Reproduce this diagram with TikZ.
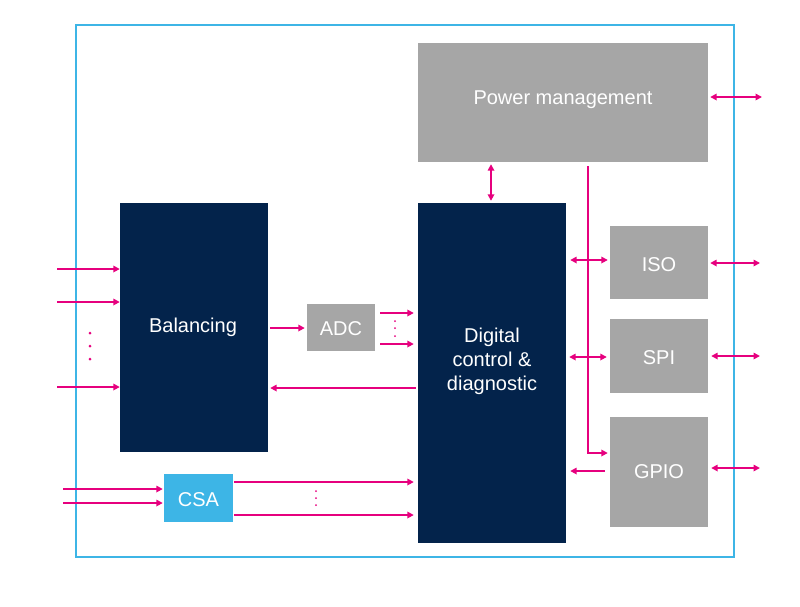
\documentclass[tikz,border=0pt]{standalone}
\usepackage{fontspec}
\setmainfont{Liberation Sans}
\usetikzlibrary{arrows.meta}
\definecolor{framec}{HTML}{3DB5E6}
\definecolor{navy}{HTML}{03234B}
\definecolor{greyc}{HTML}{A6A6A6}
\definecolor{mag}{HTML}{E6007E}
\begin{document}
\begin{tikzpicture}[x=1pt,y=-1pt,
  blk/.style={inner sep=0pt, text=white, font=\fontsize{20}{24}\selectfont, align=center},
  navyblk/.style={blk, fill=navy},
  greyblk/.style={blk, fill=greyc},
  csablk/.style={blk, fill=framec},
  sig/.style={draw=mag, line width=2pt, -{Triangle[length=6.5pt,width=6.5pt]}},
  dsig/.style={draw=mag, line width=2pt, {Triangle[length=6.5pt,width=6.5pt]}-{Triangle[length=6.5pt,width=6.5pt]}},
  bigdot/.style={circle, fill=mag, inner sep=0pt, minimum size=3pt},
  smalldot/.style={circle, fill=mag, inner sep=0pt, minimum size=2pt}
]
\useasboundingbox (0,0) rectangle (800,606);
\node[draw=framec, line width=1.5pt, minimum width=658pt, minimum height=532pt, inner sep=0pt] (frm) at (405,291) {};

\node[greyblk, minimum width=290pt, minimum height=119pt] (pm) at (563,102.5) {};
\node[blk] (pmlbl) at (563,99.5) {Power management};
\node[navyblk, minimum width=148pt, minimum height=249pt] (bal) at (194,327.5) {};
\node[blk] (ballbl) at (193,327.5) {Balancing};
\node[navyblk, minimum width=148pt, minimum height=340pt] (dig) at (492,373) {};
\node[blk] (diglbl) at (492,361.5) {Digital\\control \&\\diagnostic};
\node[greyblk, minimum width=68pt, minimum height=47pt] (adc) at (341,327.5) {};
\node[blk] (adclbl) at (341,329) {ADC};
\node[greyblk, minimum width=98pt, minimum height=73pt] (iso) at (659,262.5) {};
\node[blk] (isolbl) at (659,265) {ISO};
\node[greyblk, minimum width=98pt, minimum height=74pt] (spi) at (659,356) {};
\node[blk] (spilbl) at (659,358) {SPI};
\node[greyblk, minimum width=98pt, minimum height=110pt] (gpio) at (659,472) {};
\node[blk] (gpiolbl) at (659,472) {GPIO};
\node[csablk, minimum width=69pt, minimum height=48pt] (csa) at (198.5,498) {};
\node[blk] (csalbl) at (198.5,500) {CSA};

% power management
\coordinate (pmR) at (762,97);
\draw[dsig, shorten <=2pt] (pm.east |- pmR) -- (pmR);
\coordinate (pdx) at (491,0);
\draw[dsig, shorten <=2pt, shorten >=2pt] (pm.south -| pdx) -- (dig.north -| pdx);
\coordinate (busx) at (588,0);
\coordinate (gpy) at (0,453);
\draw[sig, shorten <=4pt, shorten >=2pt] (pm.south -| busx) |- (gpio.west |- gpy);

% ISO
\coordinate (isoy) at (0,260);
\draw[dsig, shorten <=4pt, shorten >=2pt] (dig.east |- isoy) -- (iso.west |- isoy);
\coordinate (isoR) at (760,263);
\draw[dsig, shorten <=2pt] (iso.east |- isoR) -- (isoR);
% SPI
\coordinate (spiy) at (0,357);
\draw[dsig, shorten <=3pt, shorten >=3pt] (dig.east |- spiy) -- (spi.west |- spiy);
\coordinate (spiR) at (760,356);
\draw[dsig, shorten <=3pt] (spi.east |- spiR) -- (spiR);
% GPIO
\coordinate (gly) at (0,471);
\draw[sig, shorten <=5pt, shorten >=4pt] (gpio.west |- gly) -- (dig.east |- gly);
\coordinate (gpR) at (760,468);
\draw[dsig, shorten <=3pt] (gpio.east |- gpR) -- (gpR);

% Balancing inputs
\coordinate (in1) at (57,269);
\coordinate (in2) at (57,302);
\coordinate (in3) at (57,387);
\draw[sig] (in1) -- (bal.west |- in1);
\draw[sig] (in2) -- (bal.west |- in2);
\draw[sig] (in3) -- (bal.west |- in3);
\node[bigdot] (bd1) at (90,333) {};
\node[bigdot] (bd2) at (90,346) {};
\node[bigdot] (bd3) at (90,359) {};

% Balancing -> ADC
\coordinate (bay) at (0,328);
\draw[sig, shorten <=2pt, shorten >=2pt] (bal.east |- bay) -- (adc.west |- bay);
% ADC -> digital
\coordinate (ad1) at (0,313);
\coordinate (ad2) at (0,344);
\draw[sig, shorten <=5pt, shorten >=4pt] (adc.east |- ad1) -- (dig.west |- ad1);
\draw[sig, shorten <=5pt, shorten >=4pt] (adc.east |- ad2) -- (dig.west |- ad2);
\node[smalldot] (ad3) at (395,321) {};
\node[smalldot] (ad4) at (395,328) {};
\node[smalldot] (ad5) at (395,336) {};
% digital -> balancing
\coordinate (dby) at (0,388);
\draw[sig, shorten <=2pt, shorten >=2pt] (dig.west |- dby) -- (bal.east |- dby);

% CSA
\coordinate (cs1) at (63,489);
\coordinate (cs2) at (63,503);
\draw[sig, shorten >=1pt] (cs1) -- (csa.west |- cs1);
\draw[sig, shorten >=1pt] (cs2) -- (csa.west |- cs2);
\coordinate (co1) at (0,482);
\coordinate (co2) at (0,515);
\draw[sig, shorten <=1pt, shorten >=4pt] (csa.east |- co1) -- (dig.west |- co1);
\draw[sig, shorten <=1pt, shorten >=4pt] (csa.east |- co2) -- (dig.west |- co2);
\node[smalldot] (cd1) at (316,491) {};
\node[smalldot] (cd2) at (316,498) {};
\node[smalldot] (cd3) at (316,505) {};
\end{tikzpicture}
\end{document}
